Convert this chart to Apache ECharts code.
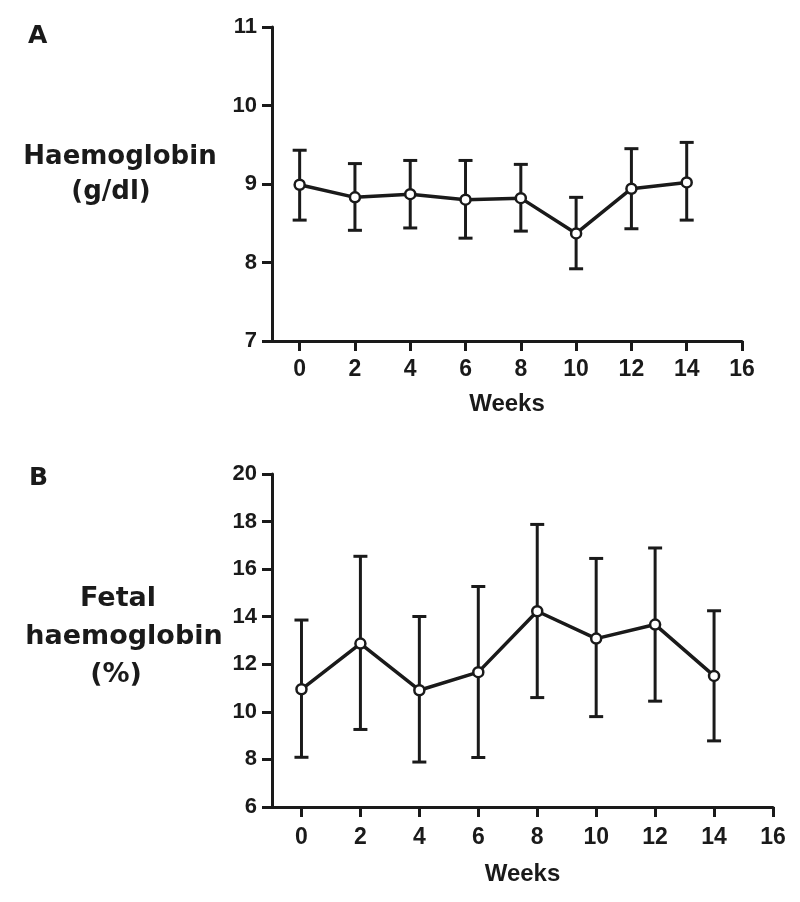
<!DOCTYPE html>
<html>
<head>
<meta charset="utf-8">
<script src="https://cdn.jsdelivr.net/npm/echarts@6/dist/echarts.min.js"></script>
<style>
html,body{margin:0;padding:0;background:#fff;}
#c{width:800px;height:902px;}
</style>
</head>
<body>
<div id="c"></div>
<script>
// ---- data ----
const weeks = [0, 2, 4, 6, 8, 10, 12, 14];
const xTicks = [0, 2, 4, 6, 8, 10, 12, 14, 16];

// Panel A: Haemoglobin (g/dl)
const hbMean  = [8.99, 8.83, 8.87, 8.80, 8.82, 8.37, 8.94, 9.02];
const hbUpper = [9.43, 9.26, 9.30, 9.30, 9.25, 8.83, 9.45, 9.53];
const hbLower = [8.54, 8.41, 8.44, 8.31, 8.40, 7.92, 8.43, 8.54];
const hbTicks = [7, 8, 9, 10, 11];

// Panel B: Fetal haemoglobin (%)
const hbfMean  = [10.95, 12.87, 10.91, 11.67, 14.23, 13.08, 13.67, 11.51];
const hbfUpper = [13.86, 16.54, 14.01, 15.27, 17.88, 16.45, 16.89, 14.25];
const hbfLower = [8.09, 9.26, 7.89, 8.08, 10.60, 9.80, 10.45, 8.78];
const hbfTicks = [6, 8, 10, 12, 14, 16, 18, 20];

const panelLetters = ['A', 'B'];
const yTitleA = ['Haemoglobin', '(g/dl)'];
const yTitleB = ['Fetal', 'haemoglobin', '(%)'];
const xTitle = 'Weeks';

// ---- chart ----
const INK = '#1a1a1a';
const chart = echarts.init(document.getElementById('c'), null, {renderer: 'canvas'});

function errRender(params, api) {
  const x = api.value(0), lo = api.value(1), hi = api.value(2);
  const pH = api.coord([x, hi]), pL = api.coord([x, lo]);
  const hw = 7;
  const st = {stroke: INK, lineWidth: 3};
  return {
    type: 'group',
    children: [
      {type: 'line', shape: {x1: pH[0], y1: pH[1], x2: pL[0], y2: pL[1]}, style: st},
      {type: 'line', shape: {x1: pH[0] - hw, y1: pH[1], x2: pH[0] + hw, y2: pH[1]}, style: st},
      {type: 'line', shape: {x1: pL[0] - hw, y1: pL[1], x2: pL[0] + hw, y2: pL[1]}, style: st}
    ]
  };
}

function xAxisDef(gridIndex, labelMargin, nameGap) {
  return {
    type: 'value', gridIndex: gridIndex, min: -1, max: 16,
    name: xTitle, nameLocation: 'middle', nameGap: nameGap,
    nameTextStyle: {fontFamily: 'Liberation Sans', fontWeight: 'bold', fontSize: 24, color: INK},
    axisLine: {onZero: false, lineStyle: {color: INK, width: 3}},
    axisTick: {show: true, inside: false, length: 10, customValues: xTicks, lineStyle: {color: INK, width: 3}},
    axisLabel: {customValues: xTicks, margin: labelMargin, fontFamily: 'Liberation Sans', fontWeight: 'bold', fontSize: 23, color: INK},
    splitLine: {show: false}
  };
}
function yAxisDef(gridIndex, ticks, interval) {
  return {
    type: 'value', gridIndex: gridIndex,
    min: ticks[0], max: ticks[ticks.length - 1], interval: interval,
    axisLine: {show: true, onZero: false, lineStyle: {color: INK, width: 3}},
    axisTick: {show: true, inside: false, length: 10, lineStyle: {color: INK, width: 3}},
    axisLabel: {margin: 15, fontFamily: 'Liberation Sans', fontWeight: 'bold', fontSize: 22, color: INK},
    splitLine: {show: false}
  };
}

function errData(lo, hi) { return weeks.map((w, i) => [w, lo[i], hi[i]]); }
function meanData(m) { return weeks.map((w, i) => [w, m[i]]); }

const titleFont = {fontFamily: 'DejaVu Sans', fontWeight: 'bold', fill: INK};

const option = {
  animation: false,
  backgroundColor: '#fff',
  grid: [
    {left: 272, top: 27, width: 470, height: 314},
    {left: 272, top: 474, width: 501, height: 333}
  ],
  xAxis: [xAxisDef(0, 17, 51), xAxisDef(1, 19, 55)],
  yAxis: [yAxisDef(0, hbTicks, 1), yAxisDef(1, hbfTicks, 2)],
  series: [
    {type: 'custom', xAxisIndex: 0, yAxisIndex: 0, renderItem: errRender,
     encode: {x: 0, y: [1, 2]}, data: errData(hbLower, hbUpper), z: 2},
    {type: 'line', xAxisIndex: 0, yAxisIndex: 0, data: meanData(hbMean), z: 3,
     symbol: 'circle', symbolSize: 10, showAllSymbol: true,
     lineStyle: {color: INK, width: 3.5},
     itemStyle: {color: '#fff', borderColor: INK, borderWidth: 2.5}},
    {type: 'custom', xAxisIndex: 1, yAxisIndex: 1, renderItem: errRender,
     encode: {x: 0, y: [1, 2]}, data: errData(hbfLower, hbfUpper), z: 2},
    {type: 'line', xAxisIndex: 1, yAxisIndex: 1, data: meanData(hbfMean), z: 3,
     symbol: 'circle', symbolSize: 10, showAllSymbol: true,
     lineStyle: {color: INK, width: 3.5},
     itemStyle: {color: '#fff', borderColor: INK, borderWidth: 2.5}}
  ],
  graphic: [
    {type: 'text', left: 28, top: 24, style: Object.assign({text: panelLetters[0], fontSize: 25}, titleFont)},
    {type: 'text', left: 29, top: 466, style: Object.assign({text: panelLetters[1], fontSize: 25}, titleFont)},
    {type: 'text', x: 120, y: 157, style: Object.assign({text: yTitleA[0], fontSize: 26, align: 'center', verticalAlign: 'middle'}, titleFont)},
    {type: 'text', x: 111, y: 192, style: Object.assign({text: yTitleA[1], fontSize: 26, align: 'center', verticalAlign: 'middle'}, titleFont)},
    {type: 'text', x: 118, y: 599, style: Object.assign({text: yTitleB[0], fontSize: 27, align: 'center', verticalAlign: 'middle'}, titleFont)},
    {type: 'text', x: 124, y: 637, style: Object.assign({text: yTitleB[1], fontSize: 27, align: 'center', verticalAlign: 'middle'}, titleFont)},
    {type: 'text', x: 116, y: 675, style: Object.assign({text: yTitleB[2], fontSize: 27, align: 'center', verticalAlign: 'middle'}, titleFont)}
  ]
};
chart.setOption(option);
</script>
</body>
</html>
